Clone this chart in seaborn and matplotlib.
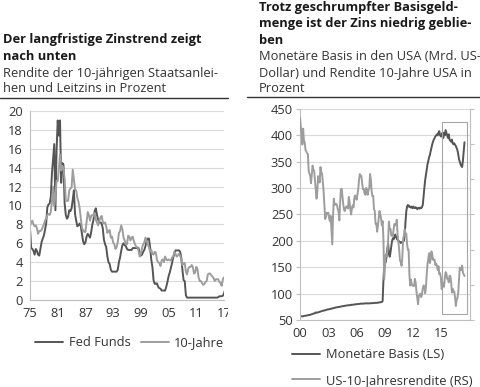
import numpy as np
import pandas as pd
import seaborn as sns
import matplotlib.pyplot as plt
from matplotlib.lines import Line2D
from matplotlib.patches import Rectangle
from matplotlib.transforms import Bbox, TransformedBbox

# Left chart: quarterly values from 1975 Q1 (percent)
fed_funds = [
    7.6, 5.5, 5.4, 5.2,      # 1975
    4.8, 5.4, 5.2, 4.8,      # 1976
    4.7, 5.4, 6.1, 6.5,      # 1977
    6.8, 7.4, 8.1, 9.8,      # 1978
    10.1, 10.2, 10.9, 13.4,  # 1979
    15.0, 16.5, 9.5, 15.8,   # 1980
    19.0, 17.4, 19.0, 12.4,  # 1981
    14.5, 14.3, 10.2, 9.0,   # 1982
    8.6, 8.8, 9.5, 9.4,      # 1983
    9.7, 10.6, 11.6, 9.1,    # 1984
    8.4, 7.8, 7.9, 8.1,      # 1985
    7.8, 7.0, 6.2, 5.9,      # 1986
    6.1, 6.7, 7.0, 6.8,      # 1987
    6.6, 7.2, 8.0, 8.5,      # 1988
    9.4, 9.7, 9.0, 8.5,      # 1989
    8.2, 8.2, 8.1, 7.6,      # 1990
    6.4, 5.9, 5.6, 4.6,      # 1991
    4.0, 3.8, 3.2, 3.0,      # 1992
    3.0, 3.0, 3.0, 3.0,      # 1993
    3.2, 4.0, 4.5, 5.2,      # 1994
    5.8, 6.0, 5.8, 5.7,      # 1995
    5.4, 5.3, 5.3, 5.3,      # 1996
    5.3, 5.5, 5.5, 5.5,      # 1997
    5.5, 5.5, 5.5, 4.9,      # 1998
    4.7, 4.8, 5.1, 5.3,      # 1999
    5.7, 6.3, 6.5, 6.5,      # 2000
    5.6, 4.3, 3.5, 2.1,      # 2001
    1.7, 1.75, 1.75, 1.4,    # 2002
    1.25, 1.2, 1.0, 1.0,     # 2003
    1.0, 1.0, 1.4, 1.9,      # 2004
    2.5, 2.9, 3.4, 3.9,      # 2005
    4.5, 4.9, 5.25, 5.25,    # 2006
    5.25, 5.25, 5.1, 4.5,    # 2007
    3.2, 2.1, 2.0, 0.5,      # 2008
    0.25, 0.25, 0.25, 0.25,  # 2009
    0.25, 0.25, 0.25, 0.25,  # 2010
    0.25, 0.25, 0.25, 0.25,  # 2011
    0.25, 0.25, 0.25, 0.25,  # 2012
    0.25, 0.25, 0.25, 0.25,  # 2013
    0.25, 0.25, 0.25, 0.25,  # 2014
    0.25, 0.25, 0.25, 0.3,   # 2015
    0.4, 0.4, 0.4, 0.45,     # 2016
    0.7, 1.1,                # 2017
]
zehn_jahre = [
    7.8, 8.2, 8.4, 8.0,      # 1975
    7.8, 7.9, 7.6, 7.0,      # 1976
    7.3, 7.3, 7.4, 7.7,      # 1977
    8.0, 8.4, 8.6, 9.0,      # 1978
    9.1, 9.0, 9.3, 10.4,     # 1979
    12.0, 10.0, 11.0, 12.6,  # 1980
    12.6, 13.8, 15.4, 13.7,  # 1981
    14.2, 13.9, 12.8, 10.5,  # 1982
    10.5, 10.5, 11.6, 11.8,  # 1983
    11.9, 13.8, 12.7, 11.7,  # 1984
    11.6, 10.8, 10.4, 9.7,   # 1985
    8.6, 7.6, 7.4, 7.2,      # 1986
    7.2, 8.3, 9.3, 9.0,      # 1987
    8.4, 8.9, 9.0, 8.9,      # 1988
    9.2, 8.5, 8.2, 7.9,      # 1989
    8.4, 8.7, 8.9, 8.3,      # 1990
    8.1, 8.2, 7.8, 7.1,      # 1991
    7.3, 7.4, 6.6, 6.7,      # 1992
    6.1, 5.9, 5.4, 5.6,      # 1993
    6.1, 7.1, 7.3, 7.9,      # 1994
    7.5, 6.6, 6.3, 5.9,      # 1995
    5.9, 6.8, 6.7, 6.3,      # 1996
    6.6, 6.7, 6.2, 5.9,      # 1997
    5.6, 5.6, 5.2, 4.6,      # 1998
    4.9, 5.5, 5.9, 6.1,      # 1999
    6.6, 6.2, 5.9, 5.6,      # 2000
    5.1, 5.3, 4.9, 4.8,      # 2001
    5.1, 5.0, 4.2, 4.0,      # 2002
    3.9, 3.6, 4.2, 4.3,      # 2003
    4.0, 4.6, 4.3, 4.2,      # 2004
    4.3, 4.2, 4.2, 4.5,      # 2005
    4.6, 5.1, 4.9, 4.6,      # 2006
    4.7, 4.9, 4.7, 4.3,      # 2007
    3.7, 3.9, 3.9, 3.0,      # 2008
    2.7, 3.3, 3.5, 3.5,      # 2009
    3.7, 3.5, 2.8, 2.9,      # 2010
    3.5, 3.3, 2.4, 2.0,      # 2011
    2.0, 1.8, 1.6, 1.7,      # 2012
    1.9, 2.0, 2.7, 2.8,      # 2013
    2.8, 2.6, 2.5, 2.3,      # 2014
    2.0, 2.2, 2.2, 2.2,      # 2015
    1.9, 1.8, 1.5, 2.2,      # 2016
    2.4, 2.3,                # 2017
]
links_ticks = [1975, 1981, 1987, 1993, 1999, 2005, 2011, 2017]
links_labels = ['75', '81', '87', '93', '99', '05', '11', '17']

# Right chart: monthly values from Jan 2000
mon_basis = [
    59, 57, 57, 57, 57, 57.5, 58, 58, 58.5, 58.5, 59, 59.5,            # 2000
    59.5, 60, 60.5, 61, 61.5, 62, 62.5, 63, 64.5, 64, 64, 64.5,        # 2001
    65, 65.5, 66, 66.5, 67, 67.5, 68, 68, 68.5, 69, 69.5, 70,          # 2002
    70, 70.5, 71, 71, 71.5, 72, 72.5, 72.5, 73, 73.5, 74, 74,          # 2003
    74.5, 74.5, 75, 75, 75.5, 76, 76, 76.5, 76.5, 77, 77, 77.5,        # 2004
    77.5, 78, 78, 78, 78.5, 78.5, 79, 79, 79, 79.5, 79.5, 80,          # 2005
    80, 80, 80.5, 80.5, 80.5, 81, 81, 81, 81, 81, 81.5, 81.5,          # 2006
    81.5, 81.5, 81.5, 81.5, 81.5, 81.5, 82, 82, 82, 82, 82, 82.5,      # 2007
    82.5, 82.5, 82.5, 83, 83, 83.5, 83.5, 84, 84, 86, 125, 152,        # 2008
    165, 160, 170, 185, 195, 175, 170, 178, 190, 200, 205, 203,        # 2009
    208, 212, 208, 204, 202, 200, 199, 198, 196, 197, 198, 199,        # 2010
    200, 210, 235, 255, 265, 268, 267, 264, 265, 263, 265, 262,        # 2011
    265, 263, 262, 264, 262, 260, 262, 263, 261, 263, 262, 264,        # 2012
    268, 285, 300, 315, 325, 335, 345, 352, 358, 363, 370, 378,        # 2013
    383, 388, 392, 395, 398, 400, 402, 400, 405, 408, 400, 398,        # 2014
    398, 405, 395, 405, 400, 410, 405, 400, 395, 402, 392, 390,        # 2015
    388, 392, 385, 383, 385, 382, 380, 376, 372, 365, 355, 350,        # 2016
    345, 342, 340, 352, 370, 387,                                      # 2017
]
us_rendite = [
    6.75, 6.52, 6.26, 5.99, 6.44, 6.10, 6.05, 5.83, 5.80, 5.74, 5.72, 5.24,  # 2000
    5.16, 5.10, 4.89, 5.14, 5.39, 5.28, 5.24, 4.97, 4.73, 4.45, 4.65, 5.09,  # 2001
    5.04, 4.91, 5.35, 5.21, 5.16, 4.93, 4.65, 4.26, 3.87, 3.94, 4.05, 4.03,  # 2002
    4.05, 3.90, 3.81, 3.96, 3.57, 3.15, 3.98, 4.45, 4.27, 4.29, 4.30, 4.27,  # 2003
    4.15, 4.08, 3.83, 4.35, 4.72, 4.73, 4.50, 4.28, 4.13, 4.10, 4.19, 4.23,  # 2004
    4.22, 4.17, 4.50, 4.34, 4.14, 4.00, 4.18, 4.26, 4.20, 4.46, 4.54, 4.47,  # 2005
    4.42, 4.57, 4.72, 4.99, 5.15, 5.11, 5.09, 4.88, 4.72, 4.73, 4.60, 4.56,  # 2006
    4.76, 4.72, 4.56, 4.69, 4.75, 5.15, 5.00, 4.67, 4.52, 4.53, 4.15, 4.10,  # 2007
    3.74, 3.74, 3.51, 3.68, 3.88, 4.10, 4.01, 3.89, 3.69, 3.81, 3.30, 2.15,  # 2008
    2.52, 2.87, 2.82, 2.93, 3.29, 3.80, 3.56, 3.59, 3.40, 3.39, 3.40, 3.59,  # 2009
    3.73, 3.69, 3.73, 3.85, 3.42, 3.20, 3.01, 2.70, 2.65, 2.54, 2.76, 3.29,  # 2010
    3.39, 3.58, 3.41, 3.46, 3.17, 3.00, 3.00, 2.30, 1.98, 2.15, 2.01, 1.98,  # 2011
    1.97, 1.97, 2.17, 2.05, 1.80, 1.62, 1.45, 1.68, 1.72, 1.75, 1.65, 1.72,  # 2012
    1.91, 1.98, 1.96, 1.76, 1.93, 2.30, 2.58, 2.74, 2.90, 2.62, 2.72, 2.95,  # 2013
    2.86, 2.71, 2.72, 2.71, 2.56, 2.60, 2.54, 2.42, 2.53, 2.30, 2.33, 2.21,  # 2014
    1.88, 1.98, 2.04, 1.94, 2.20, 2.36, 2.32, 2.17, 2.17, 2.07, 2.26, 2.24,  # 2015
    2.09, 1.78, 1.89, 1.81, 1.81, 1.64, 1.40, 1.56, 1.63, 1.76, 2.14, 2.49,  # 2016
    2.45, 2.42, 2.55, 2.35, 2.30, 2.25,                                      # 2017
]
rechts_ticks = [2000, 2003, 2006, 2009, 2012, 2015, 2018]
rechts_labels = ['00', '03', '06', '09', '12', '15', '']

# highlighted box (years, left-axis units)
box_x0, box_x1 = 2015.05, 2017.7
box_y0, box_y1 = 61, 426

dunkel = '#555555'
hell = '#9d9d9d'
gitter = '#d9d9d9'
achse = '#bfbfbf'
textfarbe = '#333333'
fs = 9.3

sns.set_theme(style='white')
plt.rcParams['font.family'] = ['Open Sans', 'DejaVu Sans']

links = pd.DataFrame({'jahr': 1975 + np.arange(len(fed_funds)) * 0.25,
                      'fed': fed_funds, 'zehn': zehn_jahre})
rechts = pd.DataFrame({'jahr': 2000 + np.arange(len(mon_basis)) / 12,
                       'basis': mon_basis, 'rendite': us_rendite})

fig = plt.figure(figsize=(4.81, 3.87), dpi=100)
W, H = 481, 387

def px_axes(x0, x1, ytop, ybot):
    return fig.add_axes([x0 / W, 1 - ybot / H, (x1 - x0) / W, (ybot - ytop) / H])

def style(ax):
    ax.grid(axis='y', color=gitter, lw=0.8)
    ax.grid(axis='x', visible=False)
    for s in ['top', 'right']:
        ax.spines[s].set_visible(False)
    for s in ['left', 'bottom']:
        ax.spines[s].set_color(achse)
        ax.spines[s].set_linewidth(0.8)
    ax.tick_params(axis='both', labelsize=fs, colors=achse, labelcolor=textfarbe,
                   length=3, width=0.8, pad=2, direction='out')
    ax.set_xlabel('')
    ax.set_ylabel('')

# ---- left chart
ax1 = px_axes(30, 224, 111, 300)
sns.lineplot(data=links, x='jahr', y='fed', ax=ax1, color=dunkel, lw=1.4, label='Fed Funds')
sns.lineplot(data=links, x='jahr', y='zehn', ax=ax1, color=hell, lw=1.4, label='10-Jahre')
ax1.set_xlim(1975, 2017)
ax1.set_ylim(0, 20)
ax1.set_yticks(range(0, 21, 2))
ax1.set_xticks(links_ticks)
ax1.set_xticklabels(links_labels)
style(ax1)
ax1.legend(loc='center left', bbox_to_anchor=(35 / W, 1 - 343 / H),
           bbox_transform=fig.transFigure, ncol=2, frameon=False, fontsize=fs,
           borderpad=0, borderaxespad=0, handlelength=2.2, handletextpad=0.4,
           columnspacing=0.8, labelcolor=textfarbe)
# the last year label is cut at the panel edge
clip = TransformedBbox(Bbox([[0, 0], [228 / W, 1]]), fig.transFigure)
for lbl in ax1.get_xticklabels():
    lbl.set_clip_box(clip)
    lbl.set_clip_on(True)

# ---- right chart
ax2 = px_axes(300, 470, 109, 320)
sns.lineplot(data=rechts, x='jahr', y='basis', ax=ax2, color=dunkel, lw=1.4,
             label='Monetäre Basis (LS)', legend=False)
ax2.set_xlim(2000, 2018)
ax2.set_ylim(50, 450)
ax2.set_yticks(range(50, 451, 50))
ax2.set_xticks(rechts_ticks)
ax2.set_xticklabels(rechts_labels)
style(ax2)
ax2.add_patch(Rectangle((box_x0, box_y0), box_x1 - box_x0, box_y1 - box_y0,
                        fill=False, edgecolor='#a6a6a6', lw=0.8, zorder=3))

ax3 = ax2.twinx()
sns.lineplot(data=rechts, x='jahr', y='rendite', ax=ax3, color=hell, lw=1.4,
             label='US-10-Jahresrendite (RS)', legend=False)
ax3.set_ylim(1, 7)
ax3.set_yticks(range(1, 8))
ax3.set_yticklabels([])
ax3.set_ylabel('')
for s in ['top', 'left', 'bottom']:
    ax3.spines[s].set_visible(False)
ax3.spines['right'].set_color(achse)
ax3.spines['right'].set_linewidth(0.8)
ax3.tick_params(axis='y', colors=achse, length=3, width=0.8)
ax3.grid(False)

handles = ax2.get_lines()[:1] + ax3.get_lines()[:1]
ax3.legend(handles, [h.get_label() for h in handles], loc='center left',
           bbox_to_anchor=(292 / W, 1 - 367.5 / H), bbox_transform=fig.transFigure,
           ncol=1, frameon=False, fontsize=fs, borderpad=0, borderaxespad=0,
           handlelength=2.2, handletextpad=0.4, labelspacing=0.95,
           labelcolor=textfarbe)

# ---- headings
links_text = [('Der langfristige Zinstrend zeigt', 'bold', 40),
              ('nach unten', 'bold', 57),
              ('Rendite der 10-jährigen Staatsanlei-', 'normal', 73),
              ('hen und Leitzins in Prozent', 'normal', 89)]
rechts_text = [('Trotz geschrumpfter Basisgeld-', 'bold', 7),
               ('menge ist der Zins niedrig geblie-', 'bold', 24),
               ('ben', 'bold', 40),
               ('Monetäre Basis in den USA (Mrd. US-', 'normal', 57),
               ('Dollar) und Rendite 10-Jahre USA in', 'normal', 73),
               ('Prozent', 'normal', 89)]
for txt, w, y in links_text:
    fig.text(3 / W, 1 - y / H, txt, fontsize=fs, fontweight=w, va='center',
             color='#1a1a1a' if w == 'bold' else textfarbe)
for txt, w, y in rechts_text:
    fig.text(259 / W, 1 - y / H, txt, fontsize=fs, fontweight=w, va='center',
             color='#1a1a1a' if w == 'bold' else textfarbe)

fig.add_artist(Line2D([0, 228 / W], [1 - 98 / H] * 2, color='#333333', lw=1))
fig.add_artist(Line2D([247 / W, 1], [1 - 97 / H] * 2, color='#333333', lw=1))

fig.savefig('out.png', dpi=100)
